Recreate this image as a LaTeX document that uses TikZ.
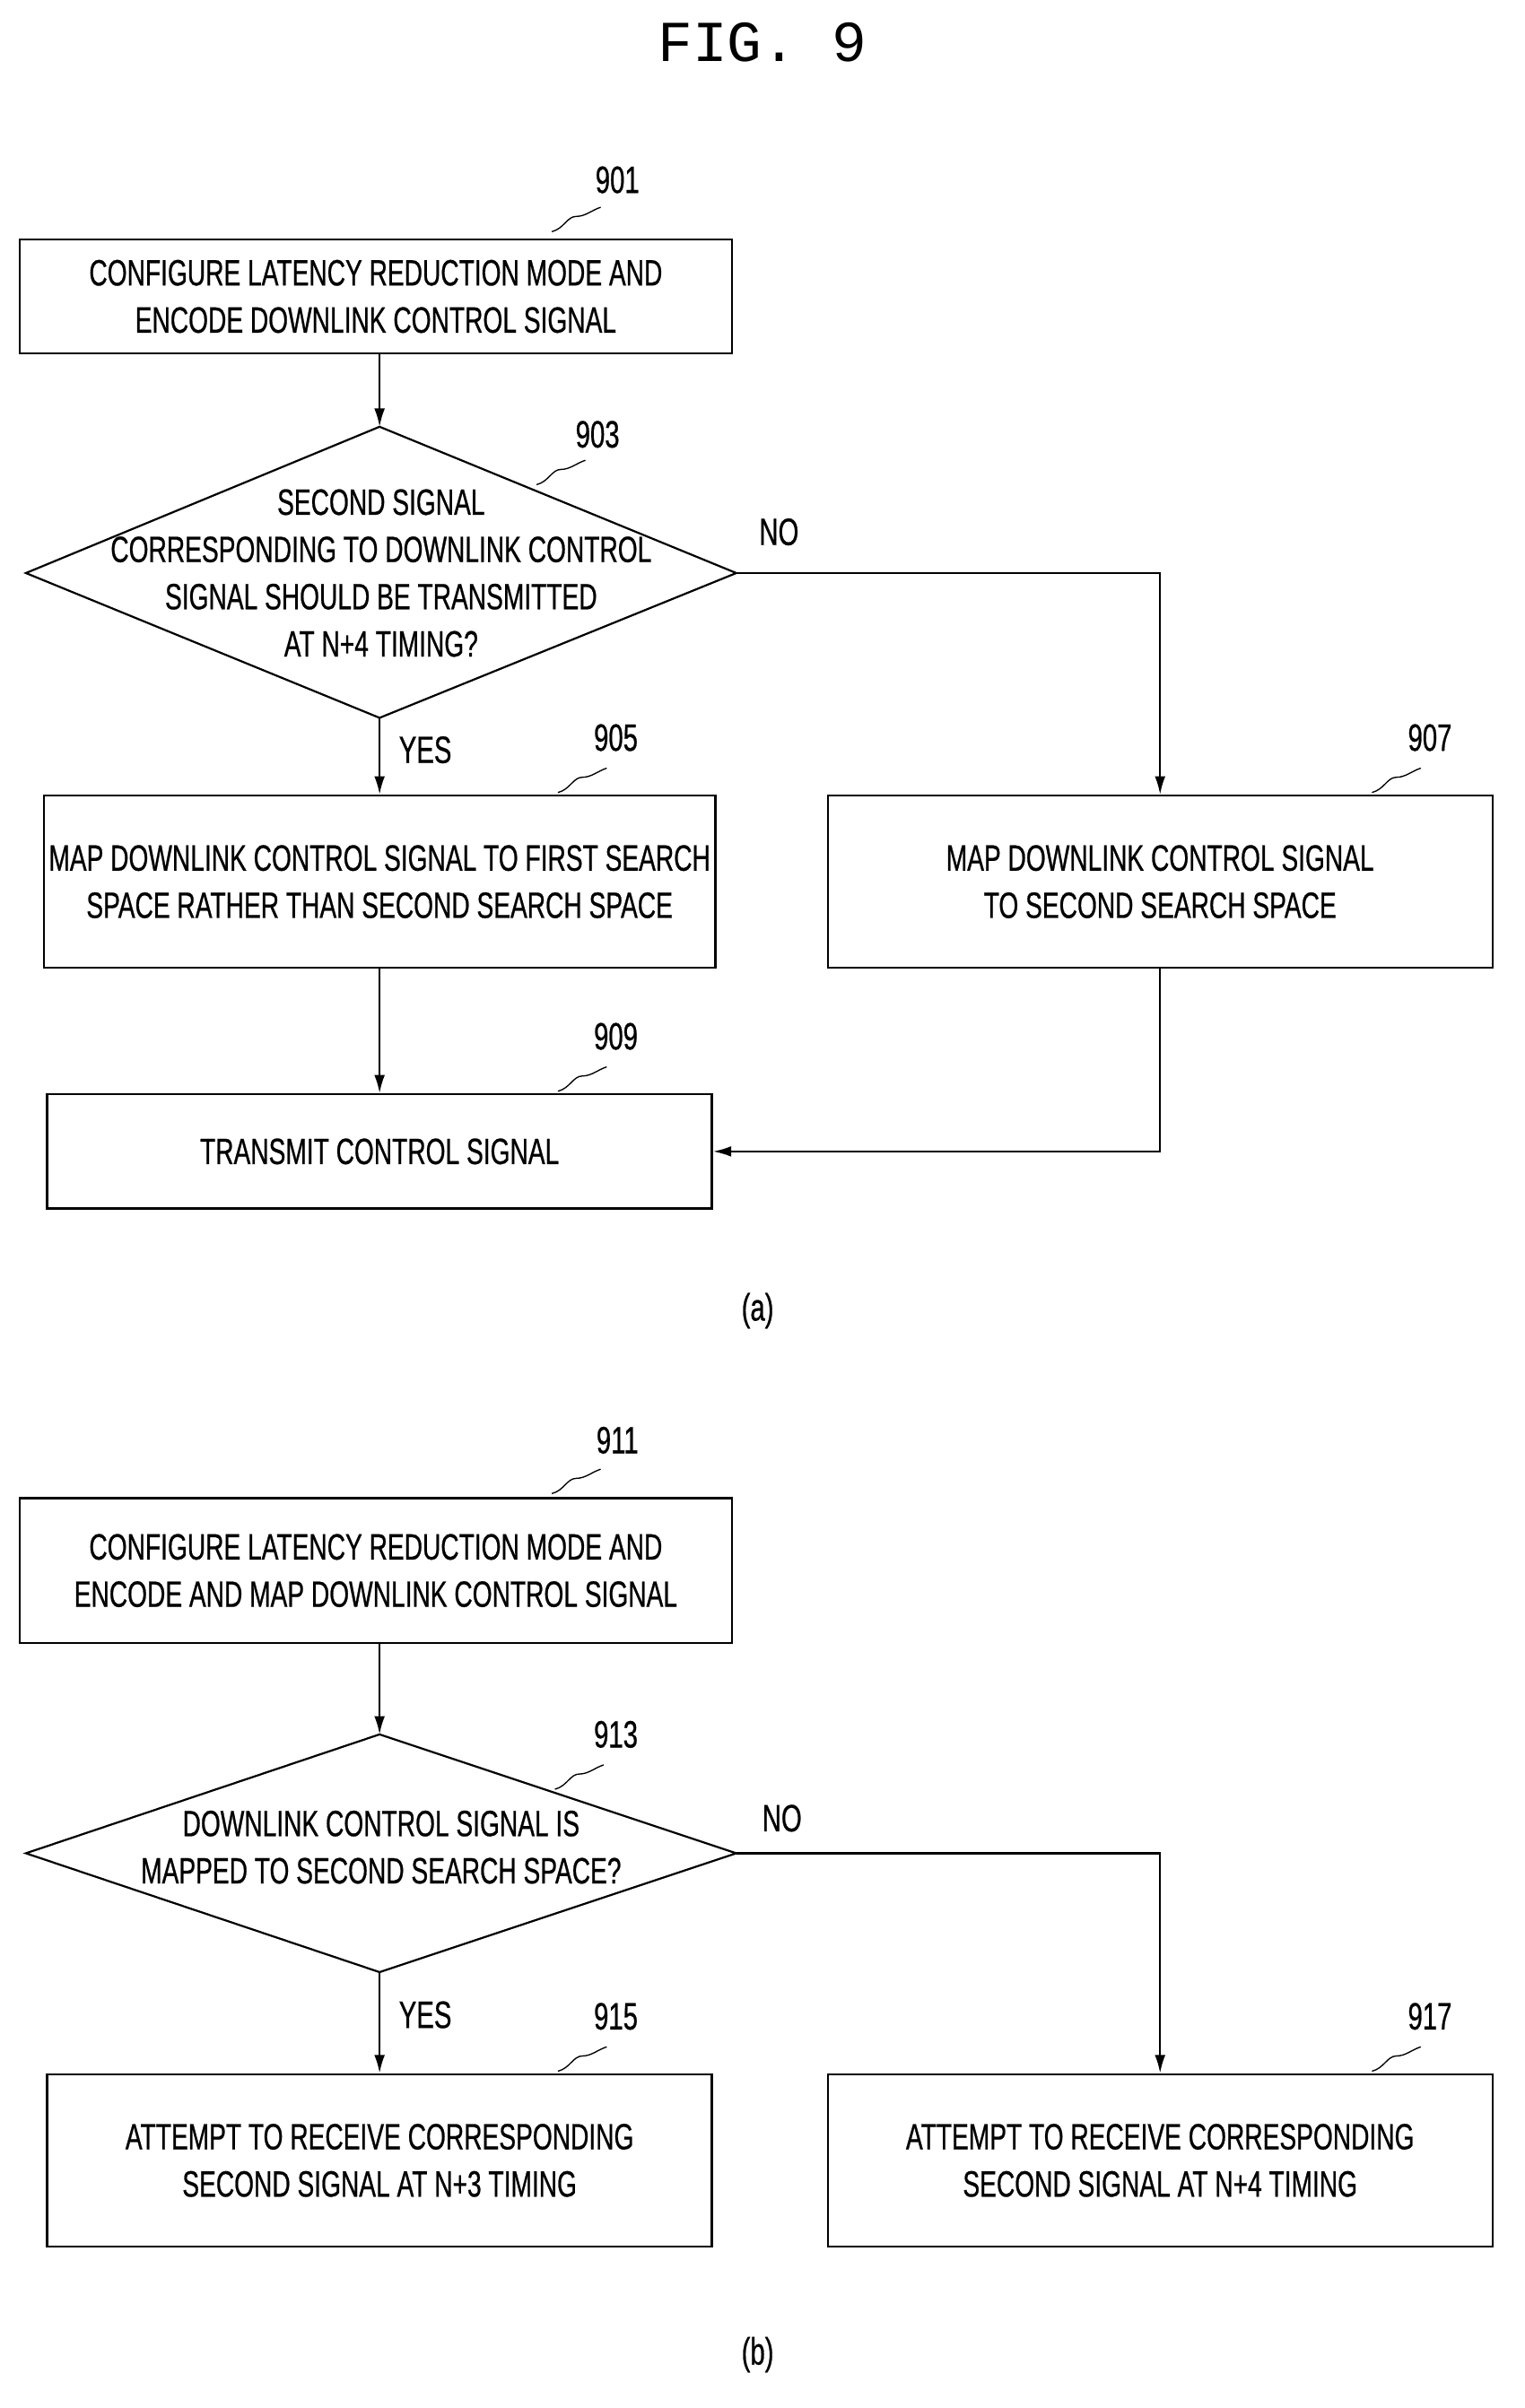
\documentclass[tikz,border=0pt]{standalone}
\usepackage{fontspec}
\setmainfont{Liberation Sans}[FakeStretch=0.69,FakeBold=0.6]
\newfontfamily\titlefont{Liberation Mono}
\usetikzlibrary{arrows.meta,shapes.geometric}
\tikzset{
  box/.style={draw,line width=1.4pt,align=center,font=\fontsize{24}{31}\selectfont},
  dia/.style={align=center,font=\fontsize{24}{31}\selectfont},
  lbl/.style={font=\fontsize{25}{30}\selectfont},
  arr/.style={line width=1.3pt,-{Latex[length=12pt,width=7pt]}},
  ln/.style={line width=1.3pt}
}
\newcommand{\tilt}[2]{\draw[line width=0.8pt] (#1,#2) .. controls (#1+8,#2-2) and (#1+10,#2-10) .. (#1+16,#2-10) .. controls (#1+22,#2-10) and (#1+26,#2-14) .. (#1+32,#2-16);}
\begin{document}
\begin{tikzpicture}[x=1pt,y=-1pt]
\useasboundingbox (0,0) rectangle (1000,1580);
\node[font=\titlefont\fontsize{38}{40}\selectfont] (title) at (500,28) {FIG. 9};

% (a)
\node[box,minimum width=467pt,minimum height=75pt] (b901) at (246.5,194.5) {CONFIGURE LATENCY REDUCTION MODE AND\\ENCODE DOWNLINK CONTROL SIGNAL};
\draw[ln] (17,376) -- (249,280) -- (483,376) -- (249,471) -- cycle;
\coordinate (d903w) at (17,376); \coordinate (d903e) at (483,376);
\coordinate (d903n) at (249,280); \coordinate (d903s) at (249,471);
\node[dia] (t903) at (250,376) {SECOND SIGNAL\\CORRESPONDING TO DOWNLINK CONTROL\\SIGNAL SHOULD BE TRANSMITTED\\AT N+4 TIMING?};
\node[box,minimum width=436pt,minimum height=113pt] (b905) at (249,578.5) {MAP DOWNLINK CONTROL SIGNAL TO FIRST SEARCH\\SPACE RATHER THAN SECOND SEARCH SPACE};
\node[box,minimum width=436pt,minimum height=113pt] (b907) at (761,578.5) {MAP DOWNLINK CONTROL SIGNAL\\TO SECOND SEARCH SPACE};
\node[box,minimum width=436pt,minimum height=75pt] (b909) at (249,755.5) {TRANSMIT CONTROL SIGNAL};
\draw[arr] (b901.south -| d903n) -- (d903n);
\draw[arr] (d903s) -- (b905.north);
\draw[arr] (d903e) -| (b907.north);
\draw[arr] (b905.south) -- (b909.north);
\draw[arr] (b907.south) |- (b909.east);
\node[lbl] (no1) at (511,349) {NO};
\node[lbl] (yes1) at (279,492) {YES};
\node[lbl] (n901) at (405,118) {901}; \tilt{362}{152}
\node[lbl] (n903) at (392,285) {903}; \tilt{352}{318}
\node[lbl] (n905) at (404,484) {905}; \tilt{366}{520}
\node[lbl] (n907) at (938,484) {907}; \tilt{900}{520}
\node[lbl] (n909) at (404,680) {909}; \tilt{366}{716}
\node[lbl] (capa) at (497,860) {(a)};

% (b)
\node[box,minimum width=467pt,minimum height=95pt] (b911) at (246.5,1030.5) {CONFIGURE LATENCY REDUCTION MODE AND\\ENCODE AND MAP DOWNLINK CONTROL SIGNAL};
\draw[ln] (17,1216) -- (249,1138) -- (483,1216) -- (249,1294) -- cycle;
\coordinate (d913e) at (483,1216);
\coordinate (d913n) at (249,1138); \coordinate (d913s) at (249,1294);
\node[dia] (t913) at (250,1212) {DOWNLINK CONTROL SIGNAL IS\\MAPPED TO SECOND SEARCH SPACE?};
\node[box,minimum width=436pt,minimum height=113pt] (b915) at (249,1417.5) {ATTEMPT TO RECEIVE CORRESPONDING\\SECOND SIGNAL AT N+3 TIMING};
\node[box,minimum width=436pt,minimum height=113pt] (b917) at (761,1417.5) {ATTEMPT TO RECEIVE CORRESPONDING\\SECOND SIGNAL AT N+4 TIMING};
\draw[arr] (b911.south -| d913n) -- (d913n);
\draw[arr] (d913s) -- (b915.north);
\draw[arr] (d913e) -| (b917.north);
\node[lbl] (no2) at (513,1193) {NO};
\node[lbl] (yes2) at (279,1322) {YES};
\node[lbl] (n911) at (405,945) {911}; \tilt{362}{980}
\node[lbl] (n913) at (404,1138) {913}; \tilt{364}{1174}
\node[lbl] (n915) at (404,1323) {915}; \tilt{366}{1359}
\node[lbl] (n917) at (938,1323) {917}; \tilt{900}{1359}
\node[lbl] (capb) at (497,1545) {(b)};
\end{tikzpicture}
\end{document}
